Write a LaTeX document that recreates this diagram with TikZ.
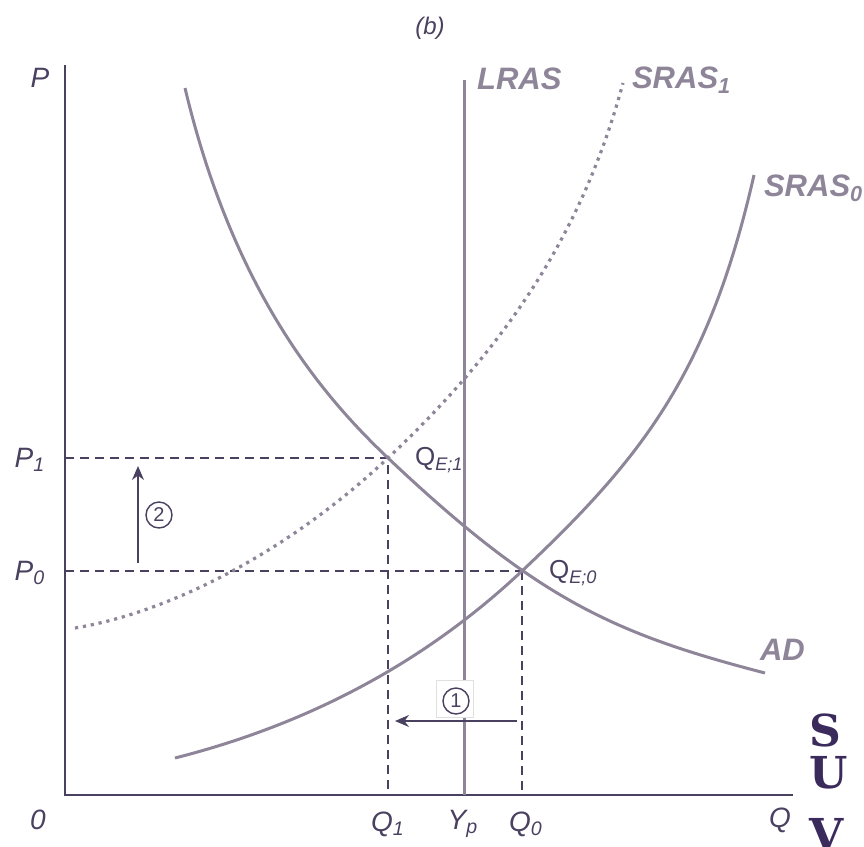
\documentclass[tikz,border=0pt]{standalone}
\usepackage{fontspec}
\setmainfont{Liberation Sans}
\newfontfamily\slabfont{DejaVu Serif}
\usetikzlibrary{arrows.meta}
\definecolor{curvegray}{HTML}{8E8599}
\definecolor{inkdark}{HTML}{4A4060}
\definecolor{brandpurple}{HTML}{3B2B5C}
\begin{document}
\begin{tikzpicture}[x=0.5pt,y=-0.5pt,
  curve/.style={curvegray,line width=1.5pt},
  dottedcurve/.style={curvegray,line width=1.6pt,dash pattern=on 1.6pt off 2.4pt},
  guide/.style={inkdark,line width=0.9pt,dash pattern=on 4.5pt off 3pt},
  thinguide/.style={inkdark,line width=0.6pt,dash pattern=on 4.5pt off 3pt},
  axislabel/.style={inkdark,font=\fontsize{14}{14}\selectfont\itshape},
  curvelabel/.style={curvegray,anchor=west,font=\fontsize{15.5}{16}\selectfont\bfseries\itshape},
  eqlabel/.style={inkdark,anchor=west,font=\fontsize{13}{13}\selectfont},
  stepnum/.style={circle,draw=inkdark,line width=0.7pt,inner sep=0pt,minimum size=13pt,text=inkdark,font=\fontsize{10}{10}\selectfont},
  brand/.style={brandpurple,anchor=west,font=\fontsize{22}{22}\selectfont\slabfont\bfseries}]
\useasboundingbox (0,0) rectangle (864,847);
% axes
\coordinate (origin) at (65,795);
\coordinate (ytop) at (65,65);
\coordinate (xend) at (793,795);
\draw[inkdark,line width=1pt] (ytop) -- (origin) -- (xend);
\node[axislabel] (plab) at (40,78) {P};
\node[axislabel] (olab) at (38,820) {0};
\node[axislabel] (qlab) at (780,820) {Q};
\node[axislabel,font=\fontsize{12}{12}\selectfont\itshape] (title) at (430,28) {(b)};
% equilibria
\coordinate (E1) at (388,458);
\coordinate (E0) at (522,571);
\coordinate (P1) at (65,458);
\coordinate (P0) at (65,571);
\coordinate (Q1) at (388,795);
\coordinate (Q0) at (522,795);
\draw[guide] (P1) -- (E1) -- (Q1);
\draw[thinguide] (P0) -- (E0);
\draw[guide] (E0) -- (Q0);
% LRAS
\coordinate (lrastop) at (464,80);
\coordinate (lrasbot) at (464,795);
\draw[curve] (lrastop) -- (lrasbot);
% SRAS_1 (dotted)
\draw[dottedcurve] (75,628) .. controls (171,612) and (288,552) .. (E1)
  .. controls (508,345) and (583,231) .. (623,83);
% SRAS_0
\draw[curve] (175,758) .. controls (305,725) and (422,665) .. (E0)
  .. controls (642,458) and (709,373) .. (754,175);
% AD
\draw[curve] (185,88) .. controls (235,298) and (328,401) .. (E1)
  .. controls (538,600) and (615,634) .. (765,673);
% curve labels
\node[curvelabel] (lraslab) at (470,79) {LRAS};
\node[curvelabel] (sras1lab) at (625,80) {SRAS\textsubscript{1}};
\node[curvelabel] (sras0lab) at (757,188) {SRAS\textsubscript{0}};
\node[curvelabel] (adlab) at (753,650) {AD};
\node[eqlabel] (e1lab) at (408,460) {Q\textsubscript{\itshape E;1}};
\node[eqlabel] (e0lab) at (542,573) {Q\textsubscript{\itshape E;0}};
% tick labels
\node[axislabel] (p1lab) at (30,460) {P\textsubscript{1}};
\node[axislabel] (p0lab) at (30,573) {P\textsubscript{0}};
\node[axislabel] (q1lab) at (388,824) {Q\textsubscript{1}};
\node[axislabel] (yplab) at (463,824) {Y\textsubscript{p}};
\node[axislabel] (q0lab) at (526,824) {Q\textsubscript{0}};
% step arrows
\coordinate (a2s) at (138,563);
\coordinate (a2e) at (138,466);
\draw[inkdark,line width=0.7pt,-{Stealth[length=7pt,width=6pt]}] (a2s) -- (a2e);
\node[stepnum] (n2) at (159,515) {2};
\node[fill=white,draw=black!12,minimum size=18.5pt,inner sep=0pt] (box1) at (455,699) {};
\node[stepnum] (n1) at (456,701) {1};
\coordinate (a1s) at (517,721);
\coordinate (a1e) at (395,721);
\draw[inkdark,line width=0.7pt,-{Stealth[length=7pt,width=6pt]}] (a1s) -- (a1e);
% cut-off side text
\node[brand] (bs) at (802,730) {S};
\node[brand] (bu) at (802,773) {U};
\node[brand] (bv) at (802,834) {V};
\end{tikzpicture}
\end{document}
